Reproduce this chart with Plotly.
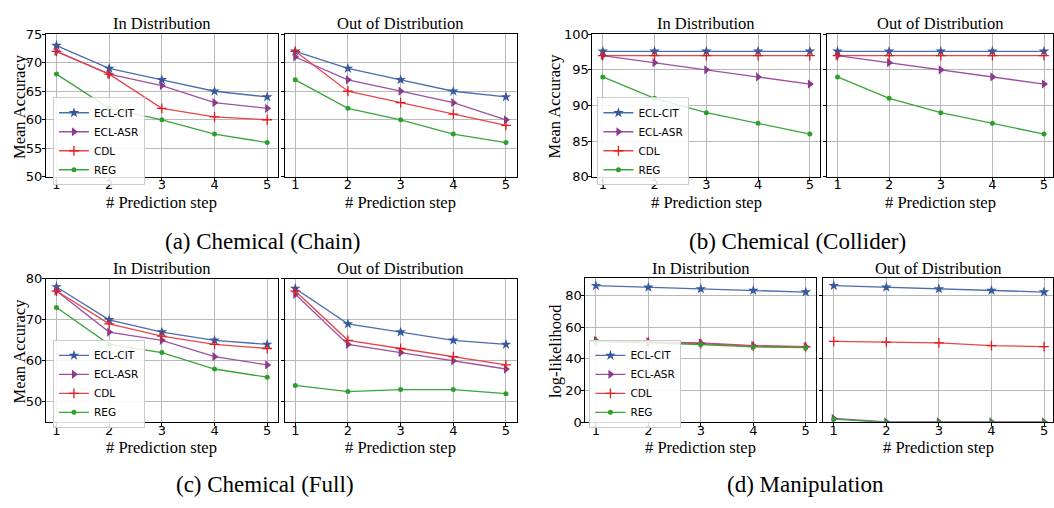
import plotly.graph_objects as go

steps = [1, 2, 3, 4, 5]
methods = ["ECL-CIT", "ECL-ASR", "CDL", "REG"]

# (a) Chemical (Chain)
chain_id = {"ECL-CIT": [73, 69, 67, 65, 64], "ECL-ASR": [72, 68, 66, 63, 62],
            "CDL": [72, 68, 62, 60.5, 60], "REG": [68, 62, 60, 57.5, 56]}
chain_ood = {"ECL-CIT": [72, 69, 67, 65, 64], "ECL-ASR": [71, 67, 65, 63, 60],
             "CDL": [72, 65, 63, 61, 59], "REG": [67, 62, 60, 57.5, 56]}
# (b) Chemical (Collider)
coll_id = {"ECL-CIT": [97.6, 97.6, 97.6, 97.6, 97.6], "ECL-ASR": [97, 96, 95, 94, 93],
           "CDL": [97, 97, 97, 97, 97], "REG": [94, 91, 89, 87.5, 86]}
coll_ood = {"ECL-CIT": [97.6, 97.6, 97.6, 97.6, 97.6], "ECL-ASR": [97, 96, 95, 94, 93],
            "CDL": [97, 97, 97, 97, 97], "REG": [94, 91, 89, 87.5, 86]}
# (c) Chemical (Full)
full_id = {"ECL-CIT": [78, 70, 67, 65, 64], "ECL-ASR": [77, 67, 65, 61, 59],
           "CDL": [77, 69, 66, 64, 63], "REG": [73, 64, 62, 58, 56]}
full_ood = {"ECL-CIT": [77.6, 69, 67, 65, 64], "ECL-ASR": [76.2, 64, 62, 60, 58],
            "CDL": [77, 65, 63, 61, 59], "REG": [54, 52.5, 53, 53, 52]}
# (d) Manipulation
manip_id = {"ECL-CIT": [86, 85, 84, 83, 82], "ECL-ASR": [51.5, 50.7, 50, 48.3, 47.7],
            "CDL": [51, 50.5, 49.5, 48, 47.5], "REG": [51, 50, 49, 47.5, 47]}
manip_ood = {"ECL-CIT": [86, 85, 84, 83, 82], "ECL-ASR": [2.5, 0.3, 0.3, 0.3, 0.3],
             "CDL": [51, 50.5, 50, 48.3, 47.7], "REG": [2, 0, 0, 0, 0]}

colors = {"ECL-CIT": "#35589e", "ECL-ASR": "#8a3b8c", "CDL": "#e31a1c", "REG": "#2ca02c"}
line_colors = {"ECL-CIT": "#4a6db0", "ECL-ASR": "#a04fa0", "CDL": "#e8454a", "REG": "#3aa53a"}
markers = {"ECL-CIT": dict(symbol="star", size=8),
           "ECL-ASR": dict(symbol="triangle-right", size=8),
           "CDL": dict(symbol="cross-thin", size=7),
           "REG": dict(symbol="circle", size=5)}

W, H = 1054, 508
def px(x):
    return x / W
def py(y):
    return 1 - y / H

# panels: data, x-domain px, y-domain px, y-range, y ticks, x-range right, legend name
panels = [
    (chain_id, (46, 278), (28, 175), [50, 75], [50, 55, 60, 65, 70, 75], 5.2, "legend", True),
    (chain_ood, (285, 517), (28, 175), [50, 75], [50, 55, 60, 65, 70, 75], 5.2, None, False),
    (coll_id, (593, 821), (28, 175), [80, 100], [80, 85, 90, 95, 100], 5.2, "legend2", True),
    (coll_ood, (828, 1054), (28, 175), [80, 100], [80, 85, 90, 95, 100], 5.174, None, False),
    (full_id, (46, 278), (280, 428), [45, 80], [50, 60, 70, 80], 5.2, "legend3", True),
    (full_ood, (285, 517), (280, 428), [45, 80], [50, 60, 70, 80], 5.2, None, False),
    (manip_id, (586, 817), (279, 428), [0, 91], [0, 20, 40, 60, 80], 5.2, "legend4", True),
    (manip_ood, (824, 1054), (279, 428), [0, 91], [0, 20, 40, 60, 80], 5.17, None, False),
]

fig = go.Figure()
layout = {}
tickfont = dict(family="DejaVu Sans", size=13, color="black")
serif = "Liberation Serif, Times New Roman, serif"

for i, (data, xd, yd, yr, yt, xr, leg, is_left) in enumerate(panels):
    n = "" if i == 0 else str(i + 1)
    for m in methods:
        mk = dict(markers[m])
        if m == "CDL":
            mk["line"] = dict(width=1.3, color=colors[m])
        else:
            mk["color"] = colors[m]
            mk["line"] = dict(width=0)
        fig.add_trace(go.Scatter(
            x=steps, y=data[m], name=m, mode="lines+markers",
            line=dict(color=line_colors[m], width=1.3), marker=mk,
            xaxis="x" + n, yaxis="y" + n,
            showlegend=leg is not None, legend=leg if leg else "legend",
        ))
    layout["xaxis" + n] = dict(
        domain=[px(xd[0]), px(xd[1])], range=[0.8, xr], anchor="y" + n,
        tickvals=steps, ticks="outside", ticklen=3, tickcolor="black",
        ticklabelstandoff=-7,
        showline=True, mirror=True, linecolor="black", linewidth=1,
        showgrid=True, gridcolor="#b8b8b8", gridwidth=1, zeroline=False,
        tickfont=tickfont,
    )
    layout["yaxis" + n] = dict(
        domain=[py(yd[1]), py(yd[0])], range=yr, anchor="x" + n,
        tickvals=yt, ticks="outside", ticklen=3, tickcolor="black",
        ticklabelstandoff=-3,
        showline=True, mirror=True, linecolor="black", linewidth=1,
        showgrid=True, gridcolor="#b8b8b8", gridwidth=1, zeroline=False,
        tickfont=tickfont, showticklabels=is_left,
    )

annotations = []
titles_top = [(46, 278, "In Distribution"), (285, 517, "Out of Distribution"),
              (593, 821, "In Distribution"), (828, 1054, "Out of Distribution")]
for xa, xb, t in titles_top:
    annotations.append(dict(x=px((xa + xb) / 2), y=py(17), text=t, showarrow=False,
                            xref="paper", yref="paper", xanchor="center", yanchor="middle",
                            font=dict(family=serif, size=16.5, color="black")))
    annotations.append(dict(x=px((xa + xb) / 2), y=py(201), text="# Prediction step", showarrow=False,
                            xref="paper", yref="paper", xanchor="center", yanchor="middle",
                            font=dict(family=serif, size=16.5, color="black")))
titles_bot = [(46, 278, "In Distribution"), (285, 517, "Out of Distribution"),
              (586, 817, "In Distribution"), (824, 1054, "Out of Distribution")]
for xa, xb, t in titles_bot:
    annotations.append(dict(x=px((xa + xb) / 2), y=py(269), text=t, showarrow=False,
                            xref="paper", yref="paper", xanchor="center", yanchor="middle",
                            font=dict(family=serif, size=16.5, color="black")))
    annotations.append(dict(x=px((xa + xb) / 2), y=py(454), text="# Prediction step", showarrow=False,
                            xref="paper", yref="paper", xanchor="center", yanchor="middle",
                            font=dict(family=serif, size=16.5, color="black")))

ytitles = [(20, 102, "Mean Accuracy"), (556, 102, "Mean Accuracy"),
           (20, 354, "Mean Accuracy"), (556, 354, "log-likelihood")]
for x, y, t in ytitles:
    annotations.append(dict(x=px(x), y=py(y), text=t, showarrow=False, textangle=-90,
                            xref="paper", yref="paper", xanchor="center", yanchor="middle",
                            font=dict(family=serif, size=16.5, color="black")))

captions = [(263, 242, "(a) Chemical (Chain)"), (798, 242, "(b) Chemical (Collider)"),
            (265, 492, "(c) Chemical (Full)"), (806, 492, "(d) Manipulation")]
for x, y, t in captions:
    annotations.append(dict(x=px(x), y=py(y), text=t, showarrow=False,
                            xref="paper", yref="paper", xanchor="center", yanchor="middle",
                            font=dict(family=serif, size=23, color="black")))

legend_style = dict(xanchor="left", yanchor="top", bgcolor="rgba(255,255,255,0.85)",
                    bordercolor="#cccccc", borderwidth=1,
                    font=dict(family="DejaVu Sans", size=10.5, color="black"),
                    tracegroupgap=0, itemwidth=30)
layout["legend"] = dict(x=px(53), y=py(93), **legend_style)
layout["legend2"] = dict(x=px(598), y=py(93), **legend_style)
layout["legend3"] = dict(x=px(53), y=py(343), **legend_style)
layout["legend4"] = dict(x=px(590), y=py(343), **legend_style)

fig.update_layout(
    width=W, height=H, margin=dict(l=0, r=0, t=0, b=0),
    paper_bgcolor="white", plot_bgcolor="white",
    annotations=annotations, **layout,
)

fig.write_html("out.html", config={"displayModeBar": False},
               post_script="document.body.style.margin='0';document.body.style.overflow='hidden';")
